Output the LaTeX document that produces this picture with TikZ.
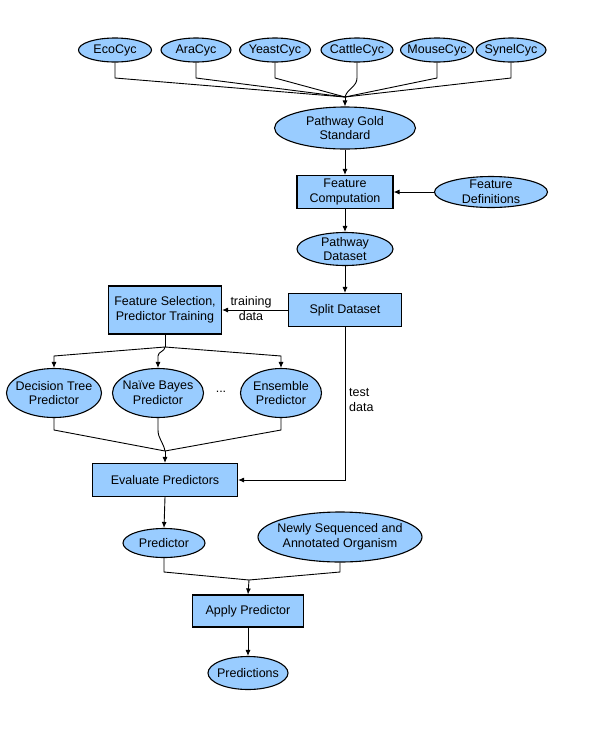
\documentclass[tikz,border=0pt]{standalone}
\usepackage{fontspec}
\setmainfont{Liberation Sans}
\usetikzlibrary{shapes.geometric,arrows.meta}
\definecolor{fillblue}{RGB}{153,204,255}
\begin{document}
\begin{tikzpicture}[x=1pt,y=-1pt,
  every node/.style={font=\fontsize{12.5}{14.5}\selectfont},
  ell/.style 2 args={ellipse,draw=black,line width=1.1pt,fill=fillblue,inner sep=0pt,
    minimum width=#1pt,minimum height=#2pt},
  txt/.style={inner sep=0pt,align=center},
  box/.style={rectangle,draw=black,line width=1.1pt,fill=fillblue,inner sep=0pt,align=center},
  conn/.style={draw=black,line width=0.9pt},
  arr/.style={conn,-{Latex[length=6pt,width=5pt]}},
  lbl/.style={inner sep=0pt,align=left}
]
\useasboundingbox (0,0) rectangle (600,729);
% top sources
\node[ell={73}{24}] (eco) at (115,50) {};
\node[txt] (eco-t) at (eco) {EcoCyc};
\node[ell={70}{24}] (ara) at (196,50) {};
\node[txt] (ara-t) at (ara) {AraCyc};
\node[ell={71}{24}] (yeast) at (275,50) {};
\node[txt] (yeast-t) at (yeast) {YeastCyc};
\node[ell={72}{24}] (cattle) at (357,50) {};
\node[txt] (cattle-t) at (cattle) {CattleCyc};
\node[ell={73}{24}] (mouse) at (437,50) {};
\node[txt] (mouse-t) at (mouse) {MouseCyc};
\node[ell={70}{24}] (synel) at (511,50) {};
\node[txt] (synel-t) at (synel) {SynelCyc};
\node[ell={141}{42}] (gold) at (345,128) {};
\node[txt] (gold-t) at (gold) {Pathway Gold\\Standard};
\node[box,minimum width=96pt,minimum height=33pt] (fc) at (345,192) {Feature\\Computation};
\node[ell={113}{31}] (fdef) at (491,192) {};
\node[txt] (fdef-t) at (fdef) {Feature\\Definitions};
\node[ell={96}{33}] (pd) at (345,249) {};
\node[txt] (pd-t) at (pd) {Pathway\\Dataset};
\node[box,minimum width=113pt,minimum height=33pt] (split) at (345,310) {Split Dataset};
\node[box,minimum width=113pt,minimum height=48pt] (fs) at (165,310) {Feature Selection,\\Predictor Training};
\node[lbl,align=center] (tdl) at (251,308.5) {training\\data};
\node[ell={95}{49}] (dt) at (54,393) {};
\node[txt] (dt-t) at (dt) {Decision Tree\\Predictor};
\node[ell={91}{49}] (nb) at (158,393) {};
\node[txt] (nb-t) at (nb) {Naïve Bayes\\Predictor};
\node[ell={81}{49}] (ens) at (281,393) {};
\node[txt] (ens-t) at (ens) {Ensemble\\Predictor};
\node[inner sep=0pt] (dots) at (221,392) {...};
\node[lbl,anchor=west] (tsl) at (349,400) {test\\data};
\node[box,minimum width=145pt,minimum height=33pt] (eval) at (165,480) {Evaluate Predictors};
\node[ell={82}{29}] (pred) at (164,543) {};
\node[txt] (pred-t) at (pred) {Predictor};
\node[ell={164}{50}] (newly) at (340,537) {};
\node[txt] (newly-t) at (newly) {Newly Sequenced and\\Annotated Organism};
\node[box,minimum width=111pt,minimum height=32pt] (apply) at (248,611) {Apply Predictor};
\node[ell={80}{33}] (preds) at (248,673) {};
\node[txt] (preds-t) at (preds) {Predictions};
% helper coordinates
\coordinate (r1) at (0,78);
\coordinate (m1) at (345,97);
\coordinate (b1) at (165,347);
\coordinate (r2) at (0,356);
\coordinate (r3) at (0,430);
\coordinate (m2) at (165,451);
\coordinate (r4) at (0,572);
\coordinate (m3) at (249,580);
% top merge
\foreach \n in {eco,ara,yeast,mouse,synel}{
  \draw[conn] (\n.south) -- (\n.south |- r1) -- (m1);
}
\draw[conn] (cattle.south) -- (cattle.south |- r1) to[out=-90,in=75] (m1);
\draw[arr] (m1) -- (gold.north);
\draw[arr] (gold.south) -- (fc.north);
\draw[arr] (fdef.west) -- (fc.east);
\draw[arr] (fc.south) -- (pd.north);
\draw[arr] (pd.south) -- (split.north);
\draw[arr] (split.west) -- (fs.east);
% branch to predictors
\draw[conn] (fs.south) -- (b1);
\draw[arr] (b1) -- (dt.north |- r2) -- (dt.north);
\draw[arr] (b1) to[out=-90,in=90] (nb.north |- r2) -- (nb.north);
\draw[arr] (b1) -- (ens.north |- r2) -- (ens.north);
% merge to evaluate
\draw[conn] (dt.south) -- (dt.south |- r3) -- (m2);
\draw[conn] (nb.south) -- (nb.south |- r3) to[out=-90,in=100] (m2);
\draw[conn] (ens.south) -- (ens.south |- r3) -- (m2);
\draw[arr] (m2) -- (eval.north);
\draw[arr] (split.south) |- (eval.east);
\draw[arr] (eval.south) -- (pred.north);
% merge to apply
\draw[conn] (pred.south) -- (pred.south |- r4) -- (m3);
\draw[conn] (newly.south) -- (newly.south |- r4) -- (m3);
\draw[arr] (m3) -- (apply.north);
\draw[arr] (apply.south) -- (preds.north);
\end{tikzpicture}
\end{document}
